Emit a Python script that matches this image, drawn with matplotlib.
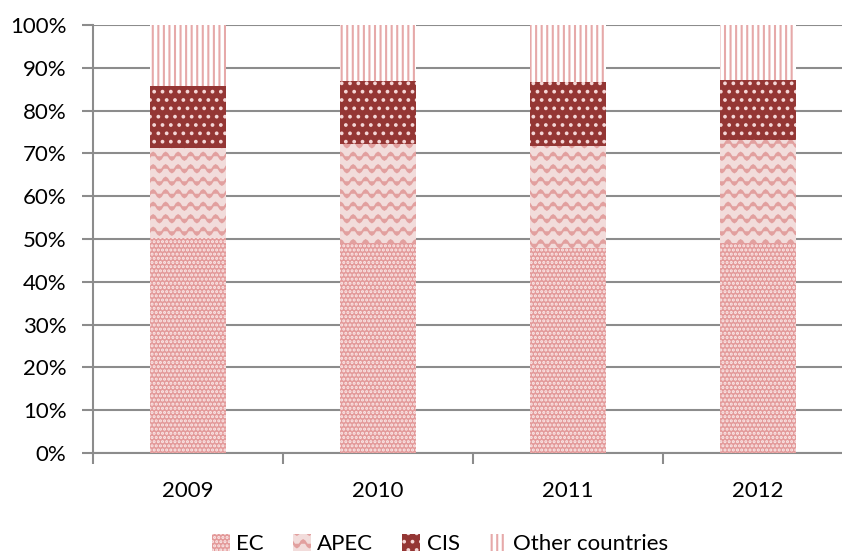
import numpy as np
import matplotlib
matplotlib.use('Agg')
from matplotlib import pyplot as plt
from matplotlib import hatch as mhatch
from matplotlib.path import Path

years = ['2009', '2010', '2011', '2012']
ec = [50.2, 49.1, 47.9, 49.1]
apec = [21.1, 23.1, 23.8, 24.0]
cis = [14.4, 14.7, 15.0, 14.0]
other = [14.3, 13.1, 13.3, 12.9]
labels = ['EC', 'APEC', 'CIS', 'Other countries']


# wavy hatch for the APEC segment ('~')
class WaveHatch(mhatch.HatchPatternBase):
    def __init__(self, hatch, density):
        self.num_lines = 8 if '~' in hatch else 0
        self.n_pts = 65
        self.num_vertices = self.num_lines * self.n_pts

    def set_vertices_and_codes(self, vertices, codes):
        x = np.linspace(0, 1, self.n_pts)
        for i in range(self.num_lines):
            y0 = (i + 0.5) / self.num_lines
            y = y0 + 0.035 * np.sin(2 * np.pi * 8 * x)
            s = slice(i * self.n_pts, (i + 1) * self.n_pts)
            vertices[s, 0] = x
            vertices[s, 1] = y
            codes[s] = Path.LINETO
            codes[i * self.n_pts] = Path.MOVETO


mhatch._hatch_types.append(WaveHatch)

plt.rcParams['font.family'] = ['Lato', 'DejaVu Sans']
plt.rcParams['hatch.linewidth'] = 1.5

fig = plt.figure(figsize=(8.42, 5.54), dpi=100)
ax = fig.add_axes([93 / 842, 101 / 554, 760 / 842, 428 / 554])

x = np.arange(len(years))
styles = [
    dict(color='#e39a9a', edgecolor='#fbeaea', hatch='....'),
    dict(color='#f2dcdb', edgecolor='#e2a09f', hatch='~'),
    dict(color='#943634', edgecolor='#f4d6d6', hatch='..'),
    dict(color='white', edgecolor='#e6a9a9', hatch='|||'),
]
bottom = np.zeros(len(years))
for vals, lab, st in zip([ec, apec, cis, other], labels, styles):
    ax.bar(x, vals, 0.4, bottom=bottom, label=lab, linewidth=0, zorder=3, **st)
    bottom += np.array(vals)

ax.set_xlim(-0.5, 3.5)
ax.set_ylim(0, 100)
ax.set_yticks(np.arange(0, 101, 10))
ax.set_yticklabels([f'{v}%' for v in range(0, 101, 10)])
ax.set_xticks(x)
ax.set_xticklabels(years)
ax.set_xticks(np.arange(-0.5, 4, 1), minor=True)
ax.tick_params(axis='x', which='major', length=0, pad=20, labelsize=16)
ax.tick_params(axis='x', which='minor', length=8, width=1.5, color='#8c8c8c', direction='out')
ax.tick_params(axis='y', length=8, width=1.5, color='#8c8c8c', labelsize=16, pad=11)
ax.grid(axis='y', color='#8c8c8c', linewidth=1.5, zorder=0)
ax.set_axisbelow(True)
for side in ['top', 'right']:
    ax.spines[side].set_visible(False)
for side in ['left', 'bottom']:
    ax.spines[side].set_color('#8c8c8c')
    ax.spines[side].set_linewidth(1.5)

ax.legend(loc='center', bbox_to_anchor=(440 / 842, 10 / 554), bbox_transform=fig.transFigure,
          ncol=4, frameon=False, fontsize=16, handlelength=0.8, handleheight=0.8,
          handletextpad=0.3, columnspacing=1.3)

fig.savefig('out.png', dpi=100)
